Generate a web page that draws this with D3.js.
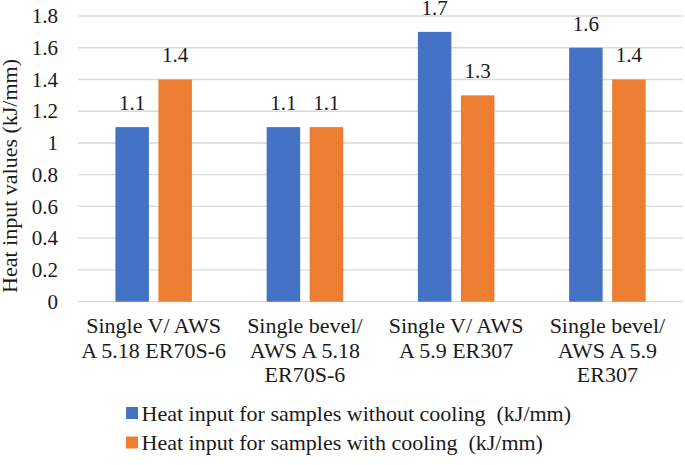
<!DOCTYPE html>
<html>
<head>
<meta charset="utf-8">
<script src="https://cdn.jsdelivr.net/npm/d3@7"></script>
<style>
  body { margin: 0; background: #fff; }
  svg text { font-family: "Liberation Serif", "Times New Roman", Tinos, "DejaVu Serif", serif; fill: #1a1a1a; }
</style>
</head>
<body>
<div id="chart"></div>
<script>
// chart data
var categories = [
  ["Single V/ AWS", "A 5.18 ER70S-6"],
  ["Single bevel/", "AWS A 5.18", "ER70S-6"],
  ["Single V/ AWS", "A 5.9 ER307"],
  ["Single bevel/", "AWS A 5.9", "ER307"]
];
var withoutCooling = [1.1, 1.1, 1.7, 1.6];
var withCooling = [1.4, 1.1, 1.3, 1.4];
var seriesNames = [
  "Heat input for samples without cooling  (kJ/mm)",
  "Heat input for samples with cooling  (kJ/mm)"
];
var yTicks = [0, 0.2, 0.4, 0.6, 0.8, 1, 1.2, 1.4, 1.6, 1.8];
var yTitle = "Heat input values (kJ/mm)";

var colors = ["#4472C4", "#ED7D31"];
var width = 685, height = 465;
var serif = '"Liberation Serif", "Times New Roman", Tinos, "DejaVu Serif", serif';

var svg = d3.select("#chart").append("svg")
  .attr("width", width)
  .attr("height", height)
  .attr("font-family", serif);

var y = d3.scaleLinear().domain([0, 1.8]).range([301.7, 16]);
var x = d3.scaleBand().domain(d3.range(categories.length)).range([78, 683]);
// two bars per group, placed in the middle of each band
var inner = d3.scaleBand().domain([0, 1]).range([37.4, 113.9]).paddingInner(0.221);

// gridlines
svg.append("g").selectAll("line")
  .data(yTicks)
  .join("line")
  .attr("x1", 78).attr("x2", 683)
  .attr("y1", d => y(d)).attr("y2", d => y(d))
  .attr("stroke", "#d9d9d9").attr("stroke-width", 1.3);

// y axis labels
var yAxis = d3.axisLeft(y).tickValues(yTicks).tickSize(0).tickPadding(0).tickFormat(d3.format("~g"));
var gy = svg.append("g").attr("transform", "translate(58,0)").call(yAxis);
gy.attr("font-family", serif);
gy.select(".domain").remove();
gy.selectAll("text").style("font-size", "21px").attr("fill", "#1a1a1a");

// y title
svg.append("text")
  .attr("transform", "translate(17,176) rotate(-90)")
  .attr("text-anchor", "middle")
  .style("font-size", "22px")
  .text(yTitle);

// bars
var series = [withoutCooling, withCooling];
series.forEach(function(vals, s) {
  var g = svg.append("g");
  g.selectAll("rect")
    .data(vals)
    .join("rect")
    .attr("x", (d, i) => x(i) + inner(s))
    .attr("width", inner.bandwidth())
    .attr("y", d => y(d))
    .attr("height", d => y(0) - y(d))
    .attr("fill", colors[s]);
  g.selectAll("text")
    .data(vals)
    .join("text")
    .attr("x", (d, i) => x(i) + inner(s) + inner.bandwidth() / 2)
    .attr("y", d => y(d) - 17)
    .attr("text-anchor", "middle")
    .style("font-size", "21px")
    .text(d => d3.format(".1f")(d));
});

// category labels
categories.forEach(function(lines, i) {
  var t = svg.append("text")
    .attr("text-anchor", "middle")
    .style("font-size", "22px");
  lines.forEach(function(line, j) {
    t.append("tspan")
      .attr("x", x(i) + x.bandwidth() / 2)
      .attr("y", 333 + j * 24.5)
      .text(line);
  });
});

// legend
seriesNames.forEach(function(name, s) {
  var cy = 413 + s * 29.5;
  svg.append("rect")
    .attr("x", 126).attr("y", cy - 6)
    .attr("width", 12).attr("height", 12)
    .attr("fill", colors[s]);
  svg.append("text")
    .attr("x", 141.5).attr("y", cy + 7.5)
    .style("font-size", "22px")
    .style("white-space", "pre")
    .attr("xml:space", "preserve")
    .text(name);
});
</script>
</body>
</html>
